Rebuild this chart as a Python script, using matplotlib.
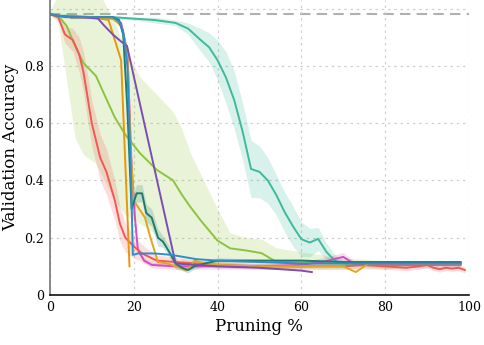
import matplotlib
matplotlib.use("Agg")
import matplotlib.pyplot as plt
import numpy as np

plt.rcParams['font.family'] = ['DejaVu Serif']

# --- data (pruning %, validation accuracy) ---
baseline = 0.982

teal_x = [0, 2, 5, 10, 15, 20, 25, 30, 33, 36, 38, 40, 42, 44, 46, 48, 50, 52, 54, 56, 58, 60, 62, 64, 66, 68, 70, 75, 80, 85, 90, 95, 98]
teal_y = [0.98, 0.975, 0.975, 0.97, 0.97, 0.965, 0.96, 0.95, 0.93, 0.89, 0.865, 0.82, 0.76, 0.68, 0.57, 0.44, 0.43, 0.40, 0.35, 0.29, 0.24, 0.195, 0.183, 0.196, 0.15, 0.12, 0.11, 0.11, 0.11, 0.11, 0.11, 0.11, 0.11]
teal_s = [0.0, 0.005, 0.005, 0.005, 0.005, 0.005, 0.01, 0.01, 0.02, 0.04, 0.05, 0.07, 0.09, 0.1, 0.1, 0.1, 0.09, 0.08, 0.07, 0.07, 0.07, 0.06, 0.05, 0.04, 0.03, 0.02, 0.01, 0.005, 0.005, 0.005, 0.005, 0.005, 0.005]

lgreen_x = [0, 2, 4, 6, 8, 11, 13, 15.5, 18, 21.5, 25.5, 29.4, 31.5, 33.4, 36, 40, 43, 47, 50.5, 54, 60, 70, 80, 90, 98]
lgreen_y = [0.98, 0.975, 0.94, 0.87, 0.81, 0.765, 0.70, 0.62, 0.56, 0.495, 0.437, 0.40, 0.35, 0.31, 0.26, 0.19, 0.163, 0.155, 0.146, 0.116, 0.112, 0.11, 0.11, 0.11, 0.11]
lgreen_lo = [0.98, 0.95, 0.75, 0.55, 0.49, 0.46, 0.40, 0.33, 0.28, 0.25, 0.21, 0.15, 0.12, 0.10, 0.10, 0.10, 0.10, 0.10, 0.09, 0.09, 0.09, 0.09, 0.09, 0.10, 0.10]
lgreen_hi = [0.99, 1.05, 1.08, 1.10, 1.10, 1.08, 1.02, 0.95, 0.86, 0.76, 0.70, 0.64, 0.58, 0.50, 0.42, 0.30, 0.216, 0.20, 0.195, 0.165, 0.15, 0.13, 0.12, 0.11, 0.11]

red_x = [0, 2, 3.6, 5.5, 7, 8, 9, 10, 11, 12, 13.5, 15.5, 16.7, 18, 20, 22, 25.5, 30, 35, 40, 50, 60, 70, 75, 80, 85, 88, 90, 91.5, 93, 94.5, 96, 97.5, 99]
red_y = [0.98, 0.97, 0.91, 0.89, 0.84, 0.78, 0.69, 0.60, 0.54, 0.48, 0.43, 0.33, 0.25, 0.20, 0.17, 0.145, 0.12, 0.115, 0.11, 0.105, 0.10, 0.10, 0.10, 0.105, 0.10, 0.095, 0.10, 0.105, 0.095, 0.09, 0.095, 0.092, 0.095, 0.087]
red_s = [0.0, 0.01, 0.03, 0.04, 0.06, 0.07, 0.08, 0.08, 0.08, 0.08, 0.08, 0.07, 0.06, 0.05, 0.04, 0.03, 0.02, 0.015, 0.01, 0.01, 0.01, 0.01, 0.01, 0.01, 0.01, 0.01, 0.01, 0.01, 0.01, 0.01, 0.01, 0.01, 0.01, 0.01]

orange_x = [0, 2, 5, 10, 14, 17, 19]
orange_y = [0.98, 0.975, 0.97, 0.97, 0.96, 0.82, 0.10]

gold_x = [0, 2, 5, 10, 15, 17, 18.5, 19.3, 20, 22.7, 24, 25.8, 28, 31, 32.5, 33.5, 34.5, 37, 40, 50, 60, 70, 73, 76, 80, 90, 98]
gold_y = [0.98, 0.975, 0.97, 0.97, 0.965, 0.94, 0.85, 0.5, 0.33, 0.27, 0.2, 0.115, 0.11, 0.095, 0.085, 0.10, 0.12, 0.11, 0.105, 0.10, 0.10, 0.10, 0.08, 0.11, 0.11, 0.11, 0.11]

dteal_x = [0, 2, 5, 10, 15, 16.5, 17.5, 18.5, 19.5, 20.7, 22, 23, 24.3, 25.8, 27, 28.5, 30, 31.5, 33, 34.5, 37, 40, 50, 60, 70, 80, 90, 98]
dteal_y = [0.98, 0.975, 0.97, 0.97, 0.97, 0.96, 0.91, 0.65, 0.30, 0.355, 0.355, 0.286, 0.27, 0.20, 0.186, 0.15, 0.11, 0.095, 0.087, 0.10, 0.11, 0.12, 0.12, 0.12, 0.115, 0.115, 0.115, 0.115]
dteal_s = [0.0, 0.005, 0.005, 0.005, 0.005, 0.01, 0.02, 0.03, 0.04, 0.03, 0.03, 0.03, 0.03, 0.03, 0.02, 0.02, 0.02, 0.01, 0.01, 0.01, 0.01, 0.01, 0.005, 0.005, 0.005, 0.005, 0.005, 0.005]

blue_x = [0, 2, 5, 10, 15, 16.5, 17.5, 18.5, 19.3, 19.8, 21, 25, 29, 35, 40, 50, 60, 70, 80, 90, 98]
blue_y = [0.98, 0.975, 0.97, 0.97, 0.97, 0.955, 0.92, 0.8, 0.45, 0.14, 0.145, 0.145, 0.14, 0.125, 0.12, 0.115, 0.11, 0.11, 0.11, 0.11, 0.11]

purple_x = [0, 2, 5, 8, 11.5, 13, 15, 17, 18.4, 30, 35, 40, 50, 55, 60, 62.5]
purple_y = [0.98, 0.975, 0.97, 0.97, 0.965, 0.94, 0.91, 0.885, 0.87, 0.11, 0.105, 0.10, 0.095, 0.09, 0.085, 0.08]

magenta_x = [0, 2, 5, 10, 15, 17, 18.5, 19.5, 20.3, 21, 22.5, 24.3, 30, 40, 50, 60, 65, 70, 72.5, 75, 80, 90, 98]
magenta_y = [0.98, 0.975, 0.97, 0.97, 0.965, 0.95, 0.85, 0.45, 0.27, 0.157, 0.12, 0.105, 0.10, 0.10, 0.10, 0.105, 0.115, 0.133, 0.11, 0.11, 0.105, 0.105, 0.105]
magenta_s = [0.0, 0.0, 0.0, 0.0, 0.0, 0.0, 0.0, 0.0, 0.0, 0.01, 0.01, 0.01, 0.01, 0.01, 0.01, 0.01, 0.015, 0.015, 0.01, 0.01, 0.01, 0.01, 0.01]

C_TEAL = "#3fb99b"
C_LGREEN = "#8dc43f"
C_RED = "#f05a53"
C_ORANGE = "#e8960a"
C_GOLD = "#e3a422"
C_DTEAL = "#1e7b6d"
C_BLUE = "#2e8dd0"
C_PURPLE = "#7b4eaf"
C_MAGENTA = "#d24fbe"

fig = plt.figure(figsize=(4.84, 3.45), dpi=100)
ax = fig.add_axes([0.103, 0.145, 0.866, 0.855])


def band(x, lo, hi, color, alpha=0.2):
    ax.fill_between(x, lo, hi, color=color, alpha=alpha, linewidth=0)


band(lgreen_x, lgreen_lo, lgreen_hi, C_LGREEN)
band(teal_x, np.array(teal_y) - teal_s, np.array(teal_y) + teal_s, C_TEAL)
band(red_x, np.array(red_y) - red_s, np.array(red_y) + red_s, C_RED)
band(dteal_x, np.array(dteal_y) - dteal_s, np.array(dteal_y) + dteal_s, C_DTEAL)
band(magenta_x, np.array(magenta_y) - magenta_s, np.array(magenta_y) + magenta_s, C_MAGENTA)

lw = 1.4
ax.plot(teal_x, teal_y, color=C_TEAL, lw=lw)
ax.plot(lgreen_x, lgreen_y, color=C_LGREEN, lw=lw)
ax.plot(magenta_x, magenta_y, color=C_MAGENTA, lw=lw)
ax.plot(red_x, red_y, color=C_RED, lw=lw)
ax.plot(gold_x, gold_y, color=C_GOLD, lw=lw)
ax.plot(dteal_x, dteal_y, color=C_DTEAL, lw=lw)
ax.plot(orange_x, orange_y, color=C_ORANGE, lw=lw)
ax.plot(purple_x, purple_y, color=C_PURPLE, lw=lw)
ax.plot(blue_x, blue_y, color=C_BLUE, lw=lw)

ax.axhline(baseline, color="#b0b0b0", lw=1.5, ls=(0, (5, 3)), zorder=0)

ax.set_xlim(0, 100)
ax.set_ylim(0, 1.03)
ax.set_xticks([0, 20, 40, 60, 80, 100])
ax.set_yticks([0, 0.2, 0.4, 0.6, 0.8, 1.0])
ax.set_yticklabels(["0", "0.2", "0.4", "0.6", "0.8", ""])
ax.tick_params(length=0, labelsize=9, pad=4)
ax.grid(True, ls=(0, (2, 3)), color="#d0d0d0", lw=0.9)
ax.set_axisbelow(True)

ax.spines["top"].set_visible(False)
ax.spines["right"].set_visible(False)
ax.spines["left"].set_color("#777777")
ax.spines["bottom"].set_color("#111111")
ax.spines["left"].set_linewidth(1.2)
ax.spines["bottom"].set_linewidth(1.2)

ax.set_xlabel("Pruning %", fontsize=12, labelpad=3)
ax.set_ylabel("Validation Accuracy", fontsize=12, labelpad=4)

fig.savefig("out.png", dpi=100)
